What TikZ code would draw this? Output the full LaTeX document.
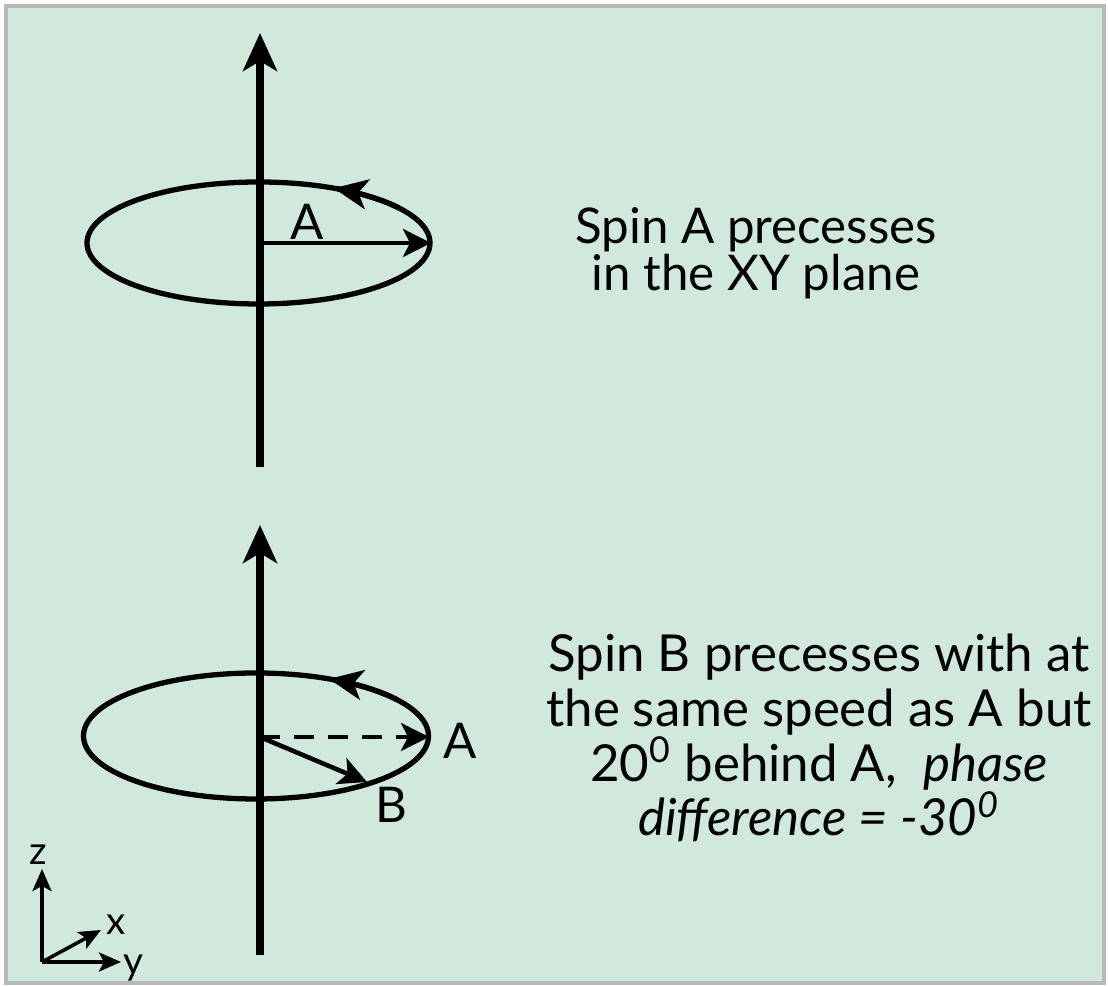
\documentclass[tikz,border=0pt]{standalone}
\usepackage{fontspec}
\setmainfont{Lato}
\usetikzlibrary{arrows.meta,positioning,calc}
\definecolor{mintBg}{HTML}{D1E8DC}
\definecolor{frameGrey}{HTML}{B7BBB5}

\begin{document}
\begin{tikzpicture}[x=0.01cm,y=-0.01cm,
    axis/.style={line width=2pt,-{Stealth[length=3.8mm,width=3.4mm,inset=1mm]}},
    orbit/.style={line width=1.5pt},
    spin/.style={line width=1.3pt,-{Stealth[length=2.8mm,width=2.8mm,inset=0.7mm]}},
    sense/.style={line width=1.5pt,-{Stealth[length=3.4mm,width=3mm,inset=0.9mm]}},
    mini/.style={line width=1pt,-{Stealth[length=2.2mm,width=1.9mm,inset=0.5mm]}},
    caption/.style={font=\fontsize{14}{13.4}\selectfont,align=center},
    tag/.style={font=\fontsize{14}{16}\selectfont,inner sep=0pt},
    keytag/.style={font=\fontsize{11}{11}\selectfont,inner sep=0pt}]
  \useasboundingbox (0,0) rectangle (1108,986);
  \fill[white] (0,0) rectangle (1108,986);
  \draw[frameGrey,line width=1pt,fill=mintBg] (6,6) rectangle (1104,983);
  % upper spin: A alone
  \coordinate (axA-bot) at (260,467);
  \coordinate (axA-top) at (260,33);
  \coordinate (cA) at (260,243);
  \coordinate (tipA) at (431,243);
  \draw[orbit] (258.5,243) ellipse [x radius=171.5,y radius=61];
  \draw[axis] (axA-bot) -- (axA-top);
  \draw[spin] (cA) -- (tipA);
  \draw[sense] plot[domain=35:64,samples=20] ({258.5+171.5*cos(\x)},{243-61*sin(\x)});
  \node[tag] (lblA) at (307,222) {A};
  \node[caption] (txtA) at (756,253) {Spin A precesses\\in the XY plane};
  % lower spin: A and B
  \coordinate (axB-bot) at (260,955);
  \coordinate (axB-top) at (260,525);
  \coordinate (cB) at (260,737);
  \coordinate (tipBA) at (429,737);
  \coordinate (tipBB) at (367,782);
  \draw[orbit] (256,736) ellipse [x radius=172.5,y radius=63];
  \draw[axis] (axB-bot) -- (axB-top);
  \draw[spin,dash pattern=on 2mm off 1.4mm] (cB) -- (tipBA);
  \draw[spin] (cB) -- (tipBB);
  \draw[sense] plot[domain=35:65,samples=20] ({256+172.5*cos(\x)},{736-63*sin(\x)});
  \node[tag] (lblBA) at (460,741) {A};
  \node[tag] (lblBB) at (391,805) {B};
  \node[caption,font=\fontsize{14.5}{15.6}\selectfont] (txtB) at (819,738)
    {Spin B precesses with at\\the same speed as A but\\20\textsuperscript{0} behind A,\ \ \textit{phase}\\\textit{difference = -30\textsuperscript{0}}};
  % axes key
  \coordinate (o) at (42,962);
  \coordinate (kz) at (42,869);
  \coordinate (ky) at (121,962);
  \coordinate (kx) at (101,930);
  \draw[mini] (o) -- (kz);
  \draw[mini] (o) -- (ky);
  \draw[mini] (o) -- (kx);
  \node[keytag] (lz) at (38,855) {z};
  \node[keytag] (ly) at (133,968) {y};
  \node[keytag] (lx) at (116,925) {x};
\end{tikzpicture}
\end{document}
